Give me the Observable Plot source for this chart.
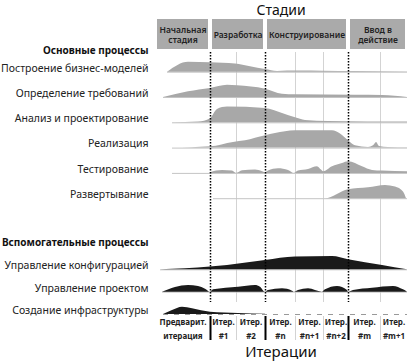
<!DOCTYPE html>
<html><head><meta charset="utf-8">
<script src="https://cdn.jsdelivr.net/npm/d3@7"></script>
<script src="https://cdn.jsdelivr.net/npm/@observablehq/plot@0.6"></script>
<style>body{margin:0;background:#fff;} svg{display:block;}</style>
</head><body><div id="chart"></div>
<script>
// ---- data (time axis: 0..252 project time units) ----
const stageNames = ["Начальная\nстадия", "Разработка", "Конструирование", "Ввод в\nдействие"];
const stageBounds = [0, 55, 110, 193, 252];
const iterationTop = ["Предварит.", "Итер.", "Итер.", "Итер.", "Итер.", "Итер.", "Итер.", "Итер."];
const iterationBottom = ["итерация", "#1", "#2", "#n", "#n+1", "#n+2", "#m", "#m+1"];
const iterationBounds = [0, 55, 81, 110, 140, 168, 193, 225, 252];

const mainNames = ["Построение бизнес-моделей", "Определение требований", "Анализ и проектирование", "Реализация", "Тестирование", "Развертывание"];
const supportNames = ["Управление конфигурацией", "Управление проектом", "Создание инфраструктуры"];

const businessModeling = [[12,0],[33,10],[55,9.5],[80,8.3],[95,5.5],[110,2.7],[122,0.7],[132,1.2],[145,1.3],[167,1],[200,0.6],[252,0.3]];
const requirements = [[8,0],[33,5.7],[55,9],[72,12.3],[82,11.7],[110,8.3],[127,3.3],[140,2.7],[200,2.3],[227,2],[252,0]];
const analysis = [[17,0],[43,0.7],[55,4],[62,13.3],[72,15.7],[110,14.3],[127,9.3],[140,5],[150,2.3],[173,1.3],[252,0.7]];
const implementation = [[17,0],[55,1.3],[78,5.7],[90,7.3],[110,12.3],[130,16.3],[140,17.3],[177,17.3],[185,14],[193,7.3],[200,2.3],[213,0.7],[218,2.3],[221,5.7],[224,1.7],[233,0.7],[252,0.3]];
const testing = [[17,0],[54,0],[55,0.7],[67,3],[77,2.3],[81,0],[87,2.7],[100,3.3],[107,1.7],[110,0.7],[113,2.3],[123,4.7],[133,3],[139,0],[143,2.3],[153,4],[162,6.7],[166,3.3],[168,1.7],[177,6.7],[187,10],[193,11.7],[207,6.7],[217,3],[227,2.3],[252,1.7]];
const deployment = [[58,0],[170,0],[193,9],[213,11],[230,13.3],[240,11.7],[248,6.7],[251,0]];
const configMgmt = [[5,0],[55,2.7],[72,4.3],[110,9.3],[140,12.7],[177,13.3],[193,10],[227,4.3],[252,0]];
const projectMgmt = [[7,0],[33,6.7],[43,5.7],[50,3],[55,0],[58,2.3],[83,5],[100,6.7],[105,5],[110,0],[113,1.7],[127,3.3],[137,1],[139,0],[143,1.7],[153,3.3],[167,0],[170,2.3],[182,5.7],[192,1.7],[193,0],[198,1.7],[217,4],[238,5.7],[248,2.3],[252,0]];
const environment = [[8,0],[17,4],[27,7.3],[37,5.7],[55,2.3],[83,1],[110,0.3]];

const mainSeries = [businessModeling, requirements, analysis, implementation, testing, deployment];
const supportSeries = [configMgmt, projectMgmt, environment];

// ---- layout (vertical placement of rows, in svg units) ----
const mainTop = 71.7, mainStep = 25.3, supTop = 269.3, supStep = 22.35;
const rows = [
  ...mainNames.map((name, i) => ({name, group: "main", base: mainTop + mainStep * i, pts: mainSeries[i]})),
  ...supportNames.map((name, i) => ({name, group: "support", base: supTop + supStep * i, pts: supportSeries[i]}))
];
const areaData = rows.flatMap(r => r.pts.map(([t, v]) => ({name: r.name, group: r.group, t, base: r.base, top: r.base - v})));
const baseLines = rows.map(r => ({name: r.name, base: r.base, t1: r.pts[0][0], t2: 252}));

const stages = stageNames.map((s, i) => ({label: s, t1: stageBounds[i], t2: stageBounds[i + 1]}));
const iterations = iterationTop.map((s, i) => ({top: s, bottom: iterationBottom[i], mid: (iterationBounds[i] + iterationBounds[i + 1]) / 2}));
const majorEdges = stageBounds.slice(1, -1);
const minorEdges = iterationBounds.filter(b => b > 0 && b < 252 && !majorEdges.includes(b));

const font = "Noto Sans";
const mainColor = "#a8a8a8", supColor = "#1a1a1a";

const chart = Plot.plot({
  width: 407, height: 361,
  marginLeft: 155, marginRight: 0, marginTop: 0, marginBottom: 0,
  style: {fontFamily: font, background: "#fff", overflow: "visible"},
  x: {domain: [0, 252], axis: null},
  y: {domain: [0, 361], range: [0, 361], axis: null},
  marks: [
    // stage boxes
    Plot.rect(stages, {x1: "t1", x2: "t2", y1: () => 17, y2: () => 51, fill: "#aaaaaa", inset: 2}),
    Plot.text(stages, {x: d => (d.t1 + d.t2) / 2, y: () => 34, text: "label", fontSize: 8.5, fontWeight: 600, fill: "#222", lineHeight: 1.2}),
    Plot.text(["Стадии"], {x: () => 125.5, y: () => 10, text: d => d, fontSize: 14, fill: "#111"}),
    // minor iteration lines
    Plot.ruleX(minorEdges, {x: d => d, y1: 52, y2: 302, stroke: "#c8c8c8", strokeWidth: 0.8}),
    // baselines
    Plot.ruleY(baseLines.filter(d => d.name !== "Создание инфраструктуры"), {y: "base", x1: "t1", x2: "t2", stroke: "#c4c4c4", strokeWidth: 1}),
    Plot.ruleY(baseLines.filter(d => d.name === "Создание инфраструктуры"), {y: "base", x1: "t1", x2: "t2", stroke: "#999", strokeWidth: 1, strokeDasharray: "5,6"}),
    // areas
    Plot.areaY(areaData.filter(d => d.group === "main"), {x: "t", y1: "base", y2: "top", z: "name", fill: mainColor, curve: "monotone-x"}),
    Plot.areaY(areaData.filter(d => d.group === "support"), {x: "t", y1: "base", y2: "top", z: "name", fill: supColor, curve: "monotone-x"}),
    // stage boundaries
    Plot.ruleX(majorEdges, {x: d => d, y1: 52, y2: 302, stroke: "#000", strokeWidth: 1.5, strokeDasharray: "1.5,1.5"}),
    // row labels
    Plot.text(rows, {frameAnchor: "left", dx: -7, y: d => d.base - 4, text: "name", textAnchor: "end", fontSize: 10.5, fill: "#222"}),
    Plot.text(["Основные процессы", "Вспомогательные процессы"], {frameAnchor: "left", dx: -7, y: (d, i) => i === 0 ? 50 : 242, text: d => d, textAnchor: "end", fontSize: 10, fontWeight: 700, fill: "#111"}),
    // iteration labels
    Plot.ruleX(majorEdges, {x: d => d, y1: 316, y2: 340, stroke: "#000", strokeWidth: 2}),
    Plot.ruleX(minorEdges, {x: d => d, y1: 316, y2: 340, stroke: "#c8c8c8", strokeWidth: 0.8}),
    Plot.text(iterations, {x: "mid", y: () => 322, text: "top", fontSize: 8, fontWeight: 700, fill: "#222"}),
    Plot.text(iterations, {x: "mid", y: () => 336, text: "bottom", fontSize: 8, fontWeight: 700, fill: "#222"}),
    Plot.text(["Итерации"], {x: () => 125.5, y: () => 352, text: d => d, fontSize: 15, fill: "#111"})
  ]
});
document.getElementById("chart").appendChild(chart);
</script></body></html>
